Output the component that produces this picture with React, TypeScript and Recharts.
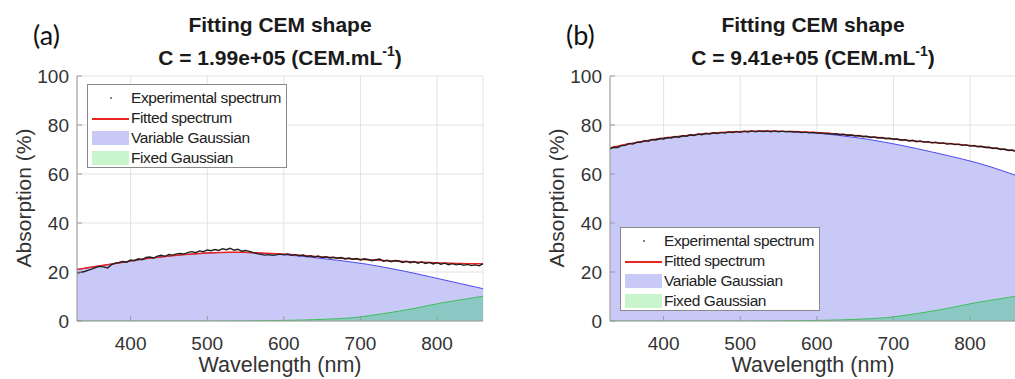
import React from "react";
import { ComposedChart, Area, Line, XAxis, YAxis, CartesianGrid } from "recharts";

// wavelength grid of the measured spectrum (nm)
const WL_EXP = [
  330, 335, 340, 345, 350, 355, 360, 365, 370, 375,
  380, 385, 390, 395, 400, 405, 410, 415, 420, 425,
  430, 435, 440, 445, 450, 455, 460, 465, 470, 475,
  480, 485, 490, 495, 500, 505, 510, 515, 520, 525,
  530, 535, 540, 545, 550, 555, 560, 565, 570, 575,
  580, 585, 590, 595, 600, 605, 610, 615, 620, 625,
  630, 635, 640, 645, 650, 655, 660, 665, 670, 675,
  680, 685, 690, 695, 700, 705, 710, 715, 720, 725,
  730, 735, 740, 745, 750, 755, 760, 765, 770, 775,
  780, 785, 790, 795, 800, 805, 810, 815, 820, 825,
  830, 835, 840, 845, 850, 855, 860,
];

// wavelength grid of the fitted curves (nm)
const WL_FIT = [330, 350, 370, 390, 410, 430, 450, 470, 490, 510, 530, 550, 570, 590, 610, 630, 650, 670, 690, 710, 730, 750, 770, 790, 810, 830, 850, 860];

const LEFT_EXP = [
  19.6, 19.9, 20.2, 20.8, 21.3, 21.9, 22.3, 22.1, 21.6, 23.0,
  23.6, 23.9, 24.3, 24.0, 24.9, 24.6, 25.4, 25.0, 25.9, 26.1,
  25.7, 26.5, 26.8, 26.4, 27.2, 26.9, 27.4, 27.6, 27.3, 28.0,
  28.3, 27.9, 28.6, 28.3, 29.0, 28.7, 29.2, 28.8, 29.5, 29.1,
  29.7, 28.9, 29.3, 28.5, 28.8, 28.4, 27.9, 27.5, 27.2, 26.9,
  27.1, 26.8, 27.0, 27.3, 27.0, 27.4, 26.8, 27.1, 26.6, 26.9,
  26.3, 26.6, 26.1, 26.5, 25.9, 26.2, 25.7, 26.0, 25.6, 25.9,
  25.3, 25.7, 25.2, 25.5, 24.9, 25.4, 25.1, 24.6, 25.0, 25.3,
  24.4, 24.8, 24.2, 24.7, 24.5, 23.9, 24.4, 23.8, 24.3, 23.6,
  24.1, 23.5, 23.9, 23.3, 23.8, 23.2, 23.6, 23.0, 23.4, 22.9,
  23.2, 22.7, 23.1, 22.6, 22.9, 22.5, 23.4,
];
const LEFT_VAR = [21.0, 22.0, 23.0, 24.0, 25.0, 25.8, 26.5, 27.1, 27.6, 27.9, 28.0, 27.95, 27.7, 27.3, 26.8, 26.2, 25.5, 24.8, 24.0, 23.1, 22.0, 20.8, 19.5, 18.1, 16.7, 15.3, 13.9, 13.2];
const LEFT_FIT = [21.0, 22.0, 23.0, 24.0, 25.0, 25.8, 26.5, 27.1, 27.6, 27.9, 28.05, 28.05, 27.8, 27.5, 27.1, 26.6, 26.15, 25.75, 25.35, 24.95, 24.65, 24.35, 24.1, 23.85, 23.65, 23.45, 23.35, 23.3];

const RIGHT_EXP = [
  70.3, 70.9, 70.8, 71.6, 71.7, 72.5, 72.2, 73.0, 72.9, 73.6,
  73.4, 74.1, 73.9, 74.5, 74.3, 74.9, 74.7, 75.3, 75.0, 75.6,
  75.4, 76.0, 75.7, 76.3, 76.0, 76.6, 76.3, 76.8, 76.5, 77.0,
  76.7, 77.2, 76.9, 77.4, 77.0, 77.5, 77.1, 77.6, 77.2, 77.6,
  77.3, 77.6, 77.2, 77.6, 77.2, 77.5, 77.2, 77.4, 77.1, 77.3,
  76.9, 77.1, 76.8, 77.0, 76.7, 76.8, 76.5, 76.6, 76.3, 76.4,
  76.0, 76.2, 75.8, 75.9, 75.5, 75.7, 75.2, 75.4, 74.9, 75.1,
  74.7, 74.9, 74.4, 74.6, 74.2, 74.3, 73.8, 74.0, 73.5, 73.8,
  73.2, 73.5, 73.0, 73.2, 72.7, 73.0, 72.5, 72.7, 72.2, 72.5,
  72.0, 72.2, 71.7, 71.9, 71.4, 71.6, 71.1, 71.3, 70.8, 70.9,
  70.4, 70.6, 70.0, 70.2, 69.6, 69.8, 69.2,
];
const RIGHT_VAR = [70.6, 72.0, 73.2, 74.2, 75.0, 75.7, 76.3, 76.8, 77.2, 77.4, 77.5, 77.4, 77.2, 76.9, 76.4, 75.7, 74.9, 74.0, 72.9, 71.7, 70.4, 69.0, 67.6, 66.1, 64.5, 62.6, 60.5, 59.4];
const RIGHT_FIT = [70.6, 72.0, 73.2, 74.2, 75.0, 75.7, 76.3, 76.8, 77.2, 77.4, 77.55, 77.5, 77.35, 77.05, 76.7, 76.2, 75.7, 75.1, 74.6, 74.0, 73.4, 72.9, 72.4, 71.9, 71.3, 70.6, 69.8, 69.4];

// same fixed gaussian in both panels
const FIXED = [0, 0, 0, 0, 0, 0, 0, 0, 0, 0, 0.02, 0.05, 0.1, 0.18, 0.3, 0.45, 0.65, 0.95, 1.35, 2.1, 3.0, 4.0, 5.1, 6.4, 7.6, 8.6, 9.6, 10.1];

const X_TICKS = [400, 500, 600, 700, 800];
const Y_TICKS = [0, 20, 40, 60, 80, 100];

const FONT = "'Liberation Sans', Arial, sans-serif";
const AXIS = "#9a9a9a";
const TXT = "#333";

function buildRows(exp: number[], vari: number[], fit: number[]) {
  const rows: any[] = WL_EXP.map((wl, i) => ({ wl, exp: exp[i] }));
  WL_FIT.forEach((wl, i) => {
    const r = rows.find((row) => row.wl === wl);
    r.vari = vari[i];
    r.fixed = FIXED[i];
    r.fit = fit[i];
  });
  return rows;
}

const BottomTick = (p: any) => (
  <g>
    <line x1={p.x} x2={p.x} y1={p.y} y2={p.y - 5} stroke={AXIS} />
    <text x={p.x} y={p.y + 22} textAnchor="middle" dominantBaseline="central" fill={TXT} fontSize={19} fontFamily={FONT}>
      {p.payload.value}
    </text>
  </g>
);
const TopTick = (p: any) => <line x1={p.x} x2={p.x} y1={p.y} y2={p.y + 5} stroke={AXIS} />;
const LeftTick = (p: any) => (
  <g>
    <line x1={p.x} x2={p.x + 5} y1={p.y} y2={p.y} stroke={AXIS} />
    <text x={p.x - 8} y={p.y} textAnchor="end" dominantBaseline="central" fill={TXT} fontSize={19} fontFamily={FONT}>
      {p.payload.value}
    </text>
  </g>
);
const RightTick = (p: any) => <line x1={p.x} x2={p.x - 5} y1={p.y} y2={p.y} stroke={AXIS} />;

function Legend({ left, top }: { left: number; top: number }) {
  const row = (i: number): React.CSSProperties => ({ position: "absolute", left: 0, top: 3 + i * 20, height: 20, width: "100%" });
  const label: React.CSSProperties = { position: "absolute", left: 43, top: 0, lineHeight: "20px", fontSize: 15.5, letterSpacing: -0.4, color: "#222", whiteSpace: "nowrap" };
  const patch = (c: string): React.CSSProperties => ({ position: "absolute", left: 4, top: 3, width: 37, height: 14, background: c });
  return (
    <div style={{ position: "absolute", left, top, width: 200, height: 84, boxSizing: "border-box", border: "1px solid #8a8a8a", background: "#fff", fontFamily: FONT }}>
      <div style={row(0)}>
        <div style={{ position: "absolute", left: 22, top: 9, width: 2, height: 2, background: "#888" }} />
        <div style={label}>Experimental spectrum</div>
      </div>
      <div style={row(1)}>
        <div style={{ position: "absolute", left: 4, top: 10, width: 37, height: 1.5, background: "#e8251e" }} />
        <div style={label}>Fitted spectrum</div>
      </div>
      <div style={row(2)}>
        <div style={patch("#c9c9f8")} />
        <div style={label}>Variable Gaussian</div>
      </div>
      <div style={row(3)}>
        <div style={patch("#c9f5cc")} />
        <div style={label}>Fixed Gaussian</div>
      </div>
    </div>
  );
}

function Panel({ left, tag, conc, rows, legendTop }: { left: number; tag: string; conc: string; rows: any[]; legendTop: number }) {
  return (
    <div style={{ position: "absolute", left, top: 0, width: 500, height: 379, fontFamily: FONT }}>
      <ComposedChart width={500} height={379} data={rows} margin={{ top: 76, right: 17, bottom: 0, left: 17 }}>
        <CartesianGrid stroke="#e2e2e2" fill="#fff" />
        <XAxis dataKey="wl" type="number" domain={[330, 860]} ticks={X_TICKS} interval={0} height={58} tickSize={0} tickMargin={0} tick={<BottomTick />} stroke={AXIS} allowDataOverflow />
        <XAxis xAxisId="top" orientation="top" dataKey="wl" type="number" domain={[330, 860]} ticks={X_TICKS} interval={0} height={0} tickSize={0} tickMargin={0} tick={<TopTick />} stroke={AXIS} allowDataOverflow />
        <YAxis domain={[0, 100]} ticks={Y_TICKS} interval={0} width={60} tickSize={0} tickMargin={0} tick={<LeftTick />} stroke={AXIS} allowDataOverflow />
        <YAxis yAxisId="right" orientation="right" domain={[0, 100]} ticks={Y_TICKS} interval={0} width={0} tickSize={0} tickMargin={0} tick={<RightTick />} stroke={AXIS} allowDataOverflow />
        <Area dataKey="vari" type="monotone" connectNulls stroke="#4a4af0" strokeWidth={1} fill="#c9c9f8" fillOpacity={1} isAnimationActive={false} />
        <Area dataKey="fixed" type="monotone" connectNulls stroke="#3cbf5a" strokeWidth={1} fill="#00c848" fillOpacity={0.3} isAnimationActive={false} />
        <Line dataKey="fit" type="monotone" connectNulls stroke="#e8251e" strokeWidth={1.5} dot={false} isAnimationActive={false} />
        <Line dataKey="exp" type="linear" stroke="#202020" strokeWidth={1.4} dot={false} isAnimationActive={false} />
      </ComposedChart>

      <div style={{ position: "absolute", left: 33, top: 21, fontFamily: "Lato, 'Open Sans', sans-serif", fontSize: 27, lineHeight: "27px", color: "#111" }}>{tag}</div>
      <div style={{ position: "absolute", left: 77, width: 406, top: 14, textAlign: "center", fontWeight: "bold", fontSize: 21, lineHeight: "21px", color: "#1a1a1a", whiteSpace: "nowrap" }}>
        Fitting CEM shape
      </div>
      <div style={{ position: "absolute", left: 77, width: 406, top: 47, textAlign: "center", fontWeight: "bold", fontSize: 21, lineHeight: "21px", color: "#1a1a1a", whiteSpace: "nowrap" }}>
        C = {conc} (CEM.mL<sup style={{ fontSize: 14, verticalAlign: 0, position: "relative", top: -9 }}>-1</sup>)
      </div>
      <div style={{ position: "absolute", left: 77, width: 406, top: 355, textAlign: "center", fontSize: 21.5, lineHeight: "21px", color: TXT }}>Wavelength (nm)</div>
      <div style={{ position: "absolute", left: 24 - 100, top: 198 - 10, width: 200, textAlign: "center", fontSize: 21, lineHeight: "20px", color: TXT, transform: "rotate(-90deg)" }}>
        Absorption (%)
      </div>
      <Legend left={10 + 77} top={legendTop} />
    </div>
  );
}

const LEFT_ROWS = buildRows(LEFT_EXP, LEFT_VAR, LEFT_FIT);
const RIGHT_ROWS = buildRows(RIGHT_EXP, RIGHT_VAR, RIGHT_FIT);

export default function App() {
  return (
    <div style={{ position: "absolute", left: 0, top: 0, width: 1015, height: 379, overflow: "hidden", background: "#fff" }}>
      <Panel left={0} tag="(a)" conc="1.99e+05" rows={LEFT_ROWS} legendTop={84} />
      <Panel left={533} tag="(b)" conc="9.41e+05" rows={RIGHT_ROWS} legendTop={227} />
    </div>
  );
}
